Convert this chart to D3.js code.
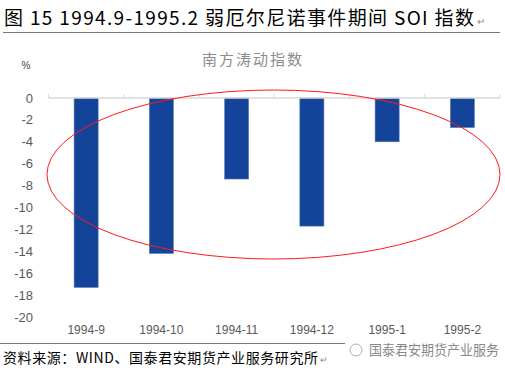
<!DOCTYPE html>
<html>
<head>
<meta charset="utf-8">
<script src="https://cdn.jsdelivr.net/npm/d3@7"></script>
<style>
body { margin: 0; background: #fff; }
text { font-family: "Liberation Sans Narrow", "Liberation Sans", Arial, sans-serif; }
.cjk { font-family: "Noto Sans CJK SC", sans-serif; }
</style>
</head>
<body>
<div id="chart"></div>
<script>
var width = 505, height = 373;

var categories = ["1994-9", "1994-10", "1994-11", "1994-12", "1995-1", "1995-2"];
var soi = [-17.3, -14.2, -7.4, -11.7, -4.0, -2.7];
var yTicks = [0, -2, -4, -6, -8, -10, -12, -14, -16, -18, -20];

var svg = d3.select("#chart").append("svg")
	.attr("width", width)
	.attr("height", height);

// title line
svg.append("text")
	.attr("class", "cjk")
	.attr("x", 4).attr("y", 25)
	.attr("font-size", 19)
	.attr("fill", "#000")
	.attr("textLength", 470)
	.attr("lengthAdjust", "spacing")
	.text("图 15 1994.9-1995.2 弱厄尔尼诺事件期间 SOI 指数");
svg.append("text")
	.attr("x", 477).attr("y", 25)
	.attr("font-size", 10)
	.attr("fill", "#888")
	.text("↵");
svg.append("line")
	.attr("x1", 3).attr("x2", 500)
	.attr("y1", 32.5).attr("y2", 32.5)
	.attr("stroke", "#777").attr("stroke-width", 1);

var x = d3.scaleBand()
	.domain(categories)
	.range([48.5, 500])
	.paddingInner(0.68)
	.paddingOuter(0.34);

var y = d3.scaleLinear()
	.domain([-20, 0])
	.range([317, 98]);

// subtitle
svg.append("text")
	.attr("class", "cjk")
	.attr("x", 253).attr("y", 65)
	.attr("text-anchor", "middle")
	.attr("font-size", 15)
	.attr("letter-spacing", 2)
	.attr("fill", "#8c8c8c")
	.text("南方涛动指数");

svg.append("text")
	.attr("x", 26).attr("y", 69)
	.attr("font-size", 10)
	.attr("text-anchor", "middle")
	.attr("fill", "#444")
	.text("%");

// y axis labels
svg.selectAll(".ytick").data(yTicks).enter().append("text")
	.attr("class", "ytick")
	.attr("x", 33)
	.attr("y", function(d) { return y(d); })
	.attr("dy", "0.35em")
	.attr("text-anchor", "end")
	.attr("font-size", 13)
	.attr("fill", "#595959")
	.text(function(d) { return d; });

// bars
svg.selectAll(".bar").data(soi).enter().append("rect")
	.attr("class", "bar")
	.attr("x", function(d, i) { return x(categories[i]); })
	.attr("width", x.bandwidth())
	.attr("y", y(0))
	.attr("height", function(d) { return y(d) - y(0); })
	.attr("fill", "#13449a")
	.attr("stroke", "#5a7fbd")
	.attr("stroke-width", 0.6);

// zero axis with category ticks
var step = x.step();
svg.append("line")
	.attr("x1", 48.5).attr("x2", 500)
	.attr("y1", y(0)).attr("y2", y(0))
	.attr("stroke", "#d9d9d9").attr("stroke-width", 1.5);
svg.selectAll(".xtick").data(d3.range(categories.length + 1)).enter().append("line")
	.attr("class", "xtick")
	.attr("x1", function(i) { return 48.5 + i * step; })
	.attr("x2", function(i) { return 48.5 + i * step; })
	.attr("y1", y(0) - 4).attr("y2", y(0))
	.attr("stroke", "#d9d9d9").attr("stroke-width", 1);

// x labels
svg.selectAll(".xlab").data(categories).enter().append("text")
	.attr("class", "xlab")
	.attr("x", function(d) { return x(d) + x.bandwidth() / 2; })
	.attr("y", 334)
	.attr("text-anchor", "middle")
	.attr("font-size", 12)
	.attr("fill", "#595959")
	.text(function(d) { return d; });

// red ellipse
svg.append("ellipse")
	.attr("cx", 273.5).attr("cy", 174.5)
	.attr("rx", 226.5).attr("ry", 84.5)
	.attr("fill", "none")
	.attr("stroke", "#ff1a1a")
	.attr("stroke-width", 1);

// source line
svg.append("line")
	.attr("x1", 0).attr("x2", 345)
	.attr("y1", 343.5).attr("y2", 343.5)
	.attr("stroke", "#777").attr("stroke-width", 1);
svg.append("text")
	.attr("class", "cjk")
	.attr("x", 3).attr("y", 363)
	.attr("font-size", 14)
	.attr("fill", "#000")
	.attr("textLength", 315)
	.attr("lengthAdjust", "spacing")
	.text("资料来源：WIND、国泰君安期货产业服务研究所");
svg.append("text")
	.attr("x", 320).attr("y", 363)
	.attr("font-size", 9)
	.attr("fill", "#888")
	.text("↵");

// watermark
svg.append("circle")
	.attr("cx", 356).attr("cy", 350).attr("r", 6)
	.attr("fill", "none").attr("stroke", "#aaa").attr("stroke-width", 1);
svg.append("text")
	.attr("class", "cjk")
	.attr("x", 369).attr("y", 355)
	.attr("font-size", 13.5)
	.attr("fill", "#888")
	.attr("textLength", 130)
	.attr("lengthAdjust", "spacingAndGlyphs")
	.text("国泰君安期货产业服务");
</script>
</body>
</html>
